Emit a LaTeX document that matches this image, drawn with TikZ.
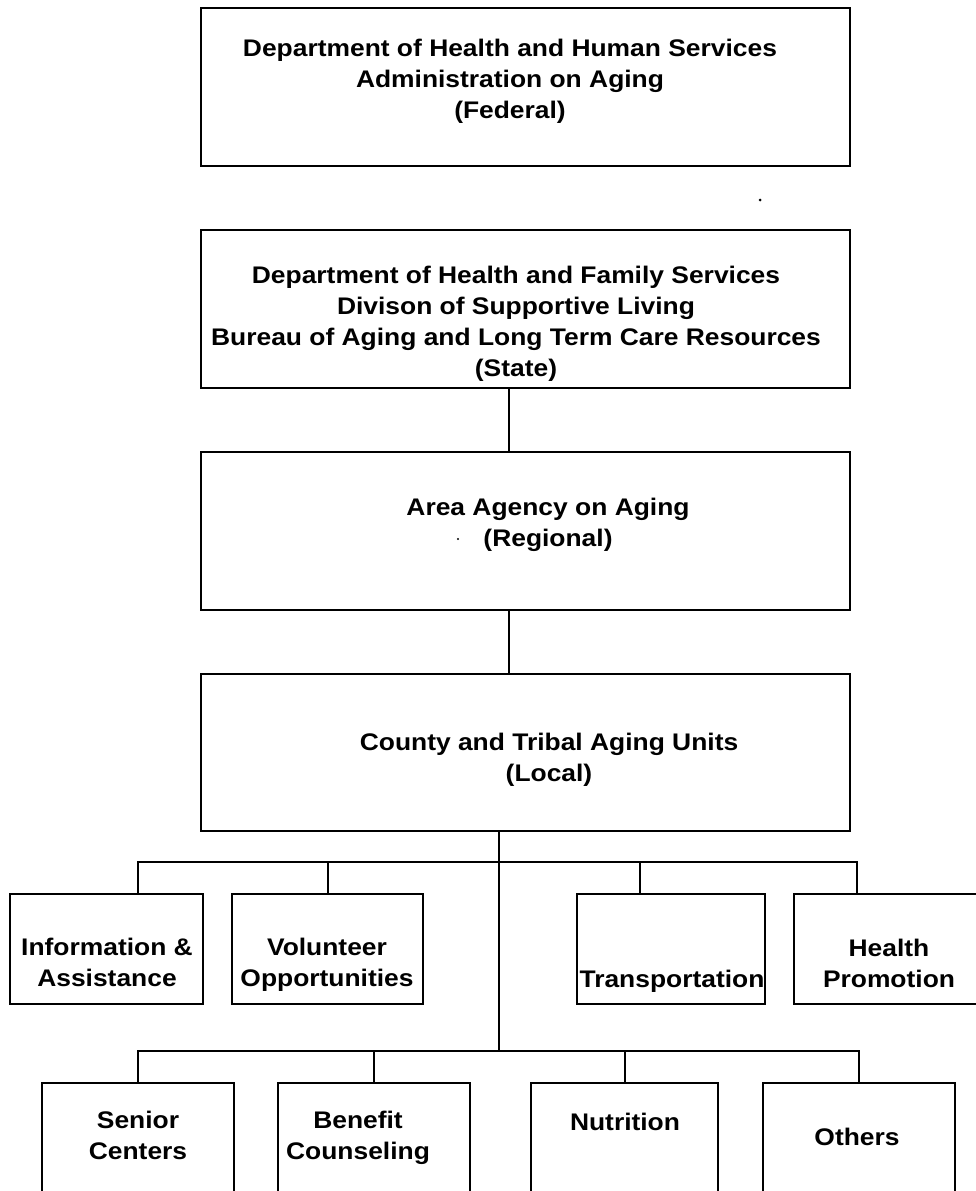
\documentclass[tikz,border=0pt]{standalone}
\usepackage{fontspec}
\newfontfamily\chartfont{Liberation Sans}[FakeStretch=1.1]
\begin{document}
\begin{tikzpicture}[x=1pt,y=-1pt,
  box/.style={draw=black,line width=2.6pt,rectangle,inner sep=0pt,fill=none},
  lbl/.style={font=\chartfont\bfseries\fontsize{24}{31}\selectfont,align=center,inner sep=0pt,anchor=north,text=black},
  link/.style={draw=black,line width=2pt}]
\useasboundingbox (0,0) rectangle (975,1191);
% main boxes
\node[box,minimum width=649pt,minimum height=158pt] (fed) at (525.5,87) {};
\node[box,minimum width=649pt,minimum height=158pt] (state) at (525.5,309) {};
\node[box,minimum width=649pt,minimum height=158pt] (reg) at (525.5,531) {};
\node[box,minimum width=649pt,minimum height=157pt] (loc) at (525.5,752.5) {};
% row 1
\node[box,minimum width=193pt,minimum height=110pt] (info) at (106.5,949) {};
\node[box,minimum width=191pt,minimum height=110pt] (vol) at (327.5,949) {};
\node[box,minimum width=188pt,minimum height=110pt] (trans) at (671,949) {};
\node[box,minimum width=196pt,minimum height=110pt] (health) at (892,949) {};
% row 2
\node[box,minimum width=192pt,minimum height=130pt] (senior) at (138,1148) {};
\node[box,minimum width=192pt,minimum height=130pt] (benefit) at (374,1148) {};
\node[box,minimum width=187pt,minimum height=130pt] (nutr) at (624.5,1148) {};
\node[box,minimum width=192pt,minimum height=130pt] (others) at (859,1148) {};
% texts
\node[lbl] (tfed) at (510,39) {Department of Health and Human Services\\Administration on Aging\\(Federal)};
\node[lbl] (tstate) at (516,266) {Department of Health and Family Services\\Divison of Supportive Living\\Bureau of Aging and Long Term Care Resources\\(State)};
\node[lbl] (treg) at (548,498) {Area Agency on Aging\\(Regional)};
\node[lbl] (tloc) at (549,733) {County and Tribal Aging Units\\(Local)};
\node[lbl] (tinfo) at (107,938) {Information \&\\Assistance};
\node[lbl] (tvol) at (327,938) {Volunteer\\Opportunities};
\node[lbl] (ttrans) at (672,970) {Transportation};
\node[lbl] (thealth) at (889,939) {Health\\Promotion};
\node[lbl] (tsenior) at (138,1111) {Senior\\Centers};
\node[lbl] (tbenefit) at (358,1111) {Benefit\\Counseling};
\node[lbl] (tnutr) at (625,1113) {Nutrition};
\node[lbl] (tothers) at (857,1128) {Others};
% connectors
\coordinate (j1) at (499,862);
\coordinate (j2) at (499,1051);
\draw[link] ([xshift=-16.5pt]state.south) -- ([xshift=-16.5pt]reg.north);
\draw[link] ([xshift=-16.5pt]reg.south) -- ([xshift=-16.5pt]loc.north);
\draw[link] ([xshift=-26.5pt]loc.south) -- (j2);
\draw[link] ([xshift=31.5pt]info.north) |- ([xshift=-35pt]health.north |- j1) -- ([xshift=-35pt]health.north);
\draw[link] (vol.north) -- (vol.north |- j1);
\draw[link] ([xshift=-31pt]trans.north) -- ([xshift=-31pt]trans.north |- j1);
\draw[link] (senior.north) |- (others.north |- j2) -- (others.north);
\draw[link] (benefit.north) -- (benefit.north |- j2);
\draw[link] (nutr.north) -- (nutr.north |- j2);
% scan specks
\fill[black] (760,200) circle (1.5pt);
\fill[black] (458,539) circle (1.2pt);
\end{tikzpicture}
\end{document}
